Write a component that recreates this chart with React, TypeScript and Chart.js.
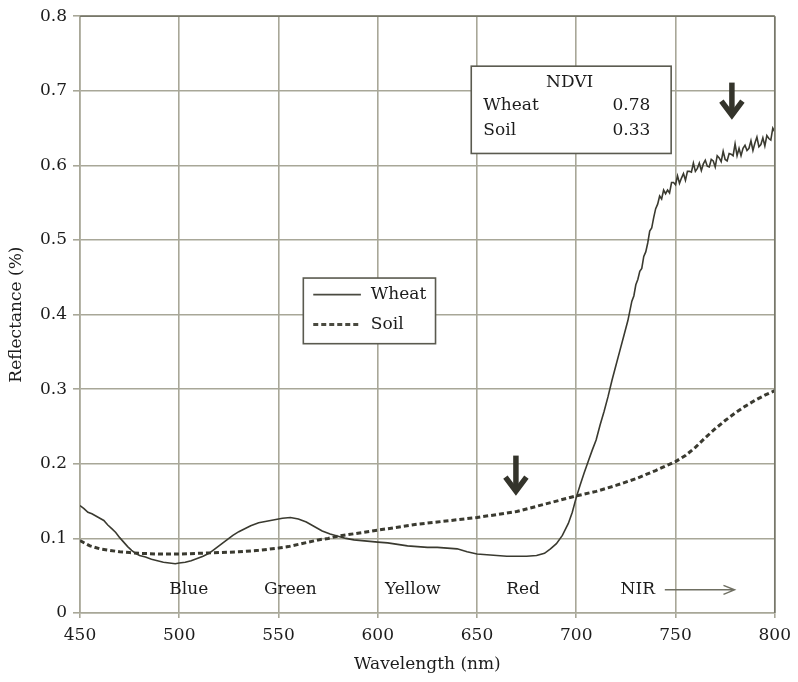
import React, { useEffect, useRef } from "react";
import { Chart, registerables } from "chart.js";

Chart.register(...registerables);

const FONT = '"DejaVu Serif", "Liberation Serif", serif';
const INK = "#1c1c1c";
const LINE = "#3a3a30";
const GRID = "#a8a798";

// Wavelength (nm), reflectance
const wheatSpectrum: [number, number][] = [
  [450, 0.144], [452, 0.14], [454, 0.135], [456, 0.133], [458, 0.13], [460, 0.127],
  [462, 0.124], [464, 0.118], [466, 0.113], [468, 0.108], [470, 0.101], [472, 0.095],
  [474, 0.089], [476, 0.084], [478, 0.08], [480, 0.077], [483, 0.075], [486, 0.072],
  [489, 0.07], [492, 0.068], [495, 0.067], [498, 0.066], [500, 0.067], [503, 0.068],
  [506, 0.07], [509, 0.073], [512, 0.076], [515, 0.08], [518, 0.086], [521, 0.092],
  [524, 0.098], [527, 0.104], [530, 0.109], [533, 0.113], [536, 0.117], [540, 0.121],
  [544, 0.123], [548, 0.125], [552, 0.127], [556, 0.128], [560, 0.126], [564, 0.122],
  [568, 0.116], [572, 0.11], [576, 0.106], [580, 0.103], [584, 0.1], [588, 0.098],
  [592, 0.097], [596, 0.096], [600, 0.095], [605, 0.094], [610, 0.092], [615, 0.09],
  [620, 0.089], [625, 0.088], [630, 0.088], [635, 0.087], [640, 0.086], [645, 0.082],
  [650, 0.079], [655, 0.078], [660, 0.077], [665, 0.076], [670, 0.076], [675, 0.076],
  [680, 0.077], [684, 0.08], [687, 0.086], [690, 0.093], [693, 0.104], [696, 0.12],
  [698, 0.135], [700, 0.155], [702, 0.172], [704, 0.188], [706, 0.203], [708, 0.218],
  [710, 0.232], [712, 0.252], [714, 0.27], [716, 0.29], [718, 0.312], [720, 0.332],
  [722, 0.352], [724, 0.372], [726, 0.392], [728, 0.418], [729, 0.425], [730, 0.44],
  [731, 0.447], [732, 0.458], [733, 0.462], [734, 0.478], [735, 0.484], [736, 0.496],
  [737, 0.512], [738, 0.516], [739, 0.53], [740, 0.542], [741, 0.548],
  [742, 0.559], [743, 0.555], [744, 0.567], [745, 0.562], [746, 0.567], [747, 0.563],
  [748, 0.577], [749, 0.577], [750, 0.574], [751, 0.586], [752, 0.576], [753, 0.583],
  [754, 0.589], [755, 0.58], [756, 0.592], [757, 0.592], [758, 0.591], [759, 0.603],
  [760, 0.592], [761, 0.596], [762, 0.603], [763, 0.593], [764, 0.602], [765, 0.607],
  [766, 0.599], [767, 0.598], [768, 0.608], [769, 0.606], [770, 0.598], [771, 0.613],
  [772, 0.61], [773, 0.605], [774, 0.619], [775, 0.608], [776, 0.606], [777, 0.616],
  [778, 0.615], [779, 0.613], [780, 0.629], [781, 0.613], [782, 0.623], [783, 0.613],
  [784, 0.623], [785, 0.627], [786, 0.62], [787, 0.623], [788, 0.633], [789, 0.62],
  [790, 0.63], [791, 0.638], [792, 0.625], [793, 0.628], [794, 0.637], [795, 0.626],
  [796, 0.64], [797, 0.636], [798, 0.634], [799, 0.65], [800, 0.645],
];

const soilSpectrum: [number, number][] = [
  [450, 0.097], [455, 0.09], [460, 0.086], [465, 0.084], [470, 0.082], [475, 0.081],
  [480, 0.08], [490, 0.079], [500, 0.079], [510, 0.08], [520, 0.081], [530, 0.082],
  [540, 0.084], [550, 0.087], [555, 0.089], [560, 0.092], [565, 0.095], [570, 0.098],
  [575, 0.1], [580, 0.103], [585, 0.105], [590, 0.107], [600, 0.111], [610, 0.115],
  [620, 0.119], [630, 0.122], [640, 0.125], [650, 0.128], [660, 0.132], [670, 0.136],
  [680, 0.143], [690, 0.15], [700, 0.157], [710, 0.163], [720, 0.171], [730, 0.18],
  [740, 0.191], [750, 0.203], [755, 0.211], [760, 0.222], [765, 0.235], [770, 0.247],
  [775, 0.258], [780, 0.268], [785, 0.277], [790, 0.285], [795, 0.292], [800, 0.298],
];

const xTicks = [450, 500, 550, 600, 650, 700, 750, 800];
const xTickLabels = ["450", "500", "550", "600", "650", "700", "750", "800"];
const yTicks = [0, 0.1, 0.2, 0.3, 0.4, 0.5, 0.6, 0.7, 0.8];
const yTickLabels = ["0", "0.1", "0.2", "0.3", "0.4", "0.5", "0.6", "0.7", "0.8"];

const seriesNames = ["Wheat", "Soil"];
const bandNames = ["Blue", "Green", "Yellow", "Red", "NIR"];
const bandCenters = [504.8, 556, 617.6, 673.2, 731];
const ndviRows: [string, string][] = [["Wheat", "0.78"], ["Soil", "0.33"]];

function nearestLabel(v: number, ticks: number[], labels: string[]) {
  let best = 0;
  for (let i = 0; i < ticks.length; i++) {
    if (Math.abs(ticks[i] - v) < Math.abs(ticks[best] - v)) best = i;
  }
  return Math.abs(ticks[best] - v) < 1e-6 ? labels[best] : "";
}

const overlay = {
  id: "overlay",
  afterDatasetsDraw(chart: any) {
    const { ctx, chartArea } = chart;
    const xs = chart.scales.x;
    const ys = chart.scales.y;
    const X = (v: number) => xs.getPixelForValue(v);
    const Y = (v: number) => ys.getPixelForValue(v);
    ctx.save();

    // darker top and right frame
    ctx.strokeStyle = "#77776a";
    ctx.lineWidth = 1.6;
    ctx.beginPath();
    ctx.moveTo(chartArea.left, chartArea.top);
    ctx.lineTo(chartArea.right, chartArea.top);
    ctx.moveTo(chartArea.right, chartArea.top);
    ctx.lineTo(chartArea.right, chartArea.bottom);
    ctx.stroke();

    // band labels
    ctx.font = `17px ${FONT}`;
    ctx.fillStyle = INK;
    ctx.textAlign = "center";
    ctx.textBaseline = "middle";
    bandNames.forEach((name, i) => ctx.fillText(name, X(bandCenters[i]), Y(0.031)));

    // NIR arrow
    ctx.strokeStyle = "#6f6f62";
    ctx.lineWidth = 1.5;
    const ay = Y(0.031);
    const ax0 = X(744.6);
    const ax1 = X(779.7);
    ctx.beginPath();
    ctx.moveTo(ax0, ay);
    ctx.lineTo(ax1, ay);
    ctx.moveTo(ax1 - 11, ay - 4.5);
    ctx.lineTo(ax1, ay);
    ctx.lineTo(ax1 - 11, ay + 4.5);
    ctx.stroke();

    // bold down arrows
    const downArrow = (nm: number, top: number, tip: number) => {
      const x = X(nm);
      const y0 = Y(top);
      const y1 = Y(tip);
      ctx.strokeStyle = "#34342b";
      ctx.lineWidth = 5.5;
      ctx.lineCap = "butt";
      ctx.lineJoin = "miter";
      ctx.beginPath();
      ctx.moveTo(x, y0);
      ctx.lineTo(x, y1 - 4);
      ctx.stroke();
      ctx.beginPath();
      ctx.moveTo(x - 10.5, y1 - 18);
      ctx.lineTo(x, y1 - 4);
      ctx.lineTo(x + 10.5, y1 - 18);
      ctx.stroke();
    };
    downArrow(669.6, 0.211, 0.158);
    downArrow(778.4, 0.711, 0.662);

    // legend box
    const lx0 = X(562.5), lx1 = X(629.1), ly0 = Y(0.449), ly1 = Y(0.361);
    ctx.fillStyle = "#ffffff";
    ctx.fillRect(lx0, ly0, lx1 - lx0, ly1 - ly0);
    ctx.strokeStyle = "#5a5a4f";
    ctx.lineWidth = 1.6;
    ctx.strokeRect(lx0, ly0, lx1 - lx0, ly1 - ly0);
    const sx0 = X(567.5), sx1 = X(591.5), tx = X(596.5);
    const rowY = [Y(0.4267), Y(0.3867)];
    ctx.strokeStyle = "#4a4a40";
    ctx.lineWidth = 1.8;
    ctx.setLineDash([]);
    ctx.beginPath();
    ctx.moveTo(sx0, rowY[0]);
    ctx.lineTo(sx1, rowY[0]);
    ctx.stroke();
    ctx.lineWidth = 2.8;
    ctx.setLineDash([5, 3]);
    ctx.beginPath();
    ctx.moveTo(sx0, rowY[1]);
    ctx.lineTo(sx1, rowY[1]);
    ctx.stroke();
    ctx.setLineDash([]);
    ctx.fillStyle = INK;
    ctx.textAlign = "left";
    ctx.textBaseline = "middle";
    ctx.font = `17px ${FONT}`;
    seriesNames.forEach((n, i) => ctx.fillText(n, tx, rowY[i]));

    // NDVI box
    const nx0 = X(647.1), nx1 = X(747.8), ny0 = Y(0.733), ny1 = Y(0.616);
    ctx.fillStyle = "#ffffff";
    ctx.fillRect(nx0, ny0, nx1 - nx0, ny1 - ny0);
    ctx.strokeStyle = "#5a5a4f";
    ctx.lineWidth = 1.6;
    ctx.strokeRect(nx0, ny0, nx1 - nx0, ny1 - ny0);
    ctx.fillStyle = INK;
    ctx.textAlign = "center";
    ctx.fillText("NDVI", X(696.7), Y(0.7107));
    const nRowY = [Y(0.68), Y(0.6467)];
    ndviRows.forEach(([name, val], i) => {
      ctx.textAlign = "left";
      ctx.fillText(name, X(653.2), nRowY[i]);
      ctx.textAlign = "right";
      ctx.fillText(val, X(737.3), nRowY[i]);
    });

    ctx.restore();
  },
};

export default function App() {
  const ref = useRef<HTMLCanvasElement>(null);

  useEffect(() => {
    if (!ref.current) return;
    const chart = new Chart(ref.current, {
      type: "line",
      data: {
        datasets: [
          {
            label: seriesNames[0],
            data: wheatSpectrum.map(([x, y]) => ({ x, y })),
            borderColor: LINE,
            borderWidth: 1.6,
            pointRadius: 0,
            tension: 0,
            fill: false,
          },
          {
            label: seriesNames[1],
            data: soilSpectrum.map(([x, y]) => ({ x, y })),
            borderColor: LINE,
            borderWidth: 3,
            borderDash: [5, 3],
            pointRadius: 0,
            tension: 0,
            fill: false,
          },
        ],
      },
      options: {
        responsive: false,
        animation: false,
        layout: { padding: { left: 0, top: 13, right: 20, bottom: 0 } },
        plugins: {
          legend: { display: false },
          tooltip: { enabled: false },
        },
        scales: {
          x: {
            type: "linear",
            min: 450,
            max: 800,
            afterFit: (s: any) => {
              s.height = 69;
            },
            afterBuildTicks: (s: any) => {
              s.ticks = xTicks.map((v) => ({ value: v }));
            },
            ticks: {
              font: { family: FONT, size: 17 },
              color: INK,
              padding: 7,
              maxRotation: 0,
              callback: (v: any) => nearestLabel(Number(v), xTicks, xTickLabels),
            },
            grid: { color: GRID, lineWidth: 1.6, tickLength: 5 },
            border: { color: GRID, width: 1.6 },
            title: {
              display: true,
              text: "Wavelength (nm)",
              font: { family: FONT, size: 17 },
              color: INK,
              padding: { top: 0, bottom: 7 },
            },
          },
          y: {
            min: 0,
            max: 0.8,
            afterFit: (s: any) => {
              s.width = 80;
            },
            afterBuildTicks: (s: any) => {
              s.ticks = yTicks.map((v) => ({ value: v }));
            },
            ticks: {
              font: { family: FONT, size: 17 },
              color: INK,
              padding: 6,
              callback: (v: any) => nearestLabel(Number(v), yTicks, yTickLabels),
            },
            grid: { color: GRID, lineWidth: 1.6, tickLength: 7 },
            border: { color: GRID, width: 1.6 },
            title: {
              display: true,
              text: "Reflectance (%)",
              font: { family: FONT, size: 17 },
              color: INK,
              padding: { top: 6, bottom: 0 },
            },
          },
        },
      },
      plugins: [overlay],
    });
    return () => chart.destroy();
  }, []);

  return (
    <div style={{ position: "absolute", left: 0, top: 0, width: 798, height: 682, background: "#fff" }}>
      <canvas ref={ref} width={798} height={682} style={{ display: "block" }} />
    </div>
  );
}
